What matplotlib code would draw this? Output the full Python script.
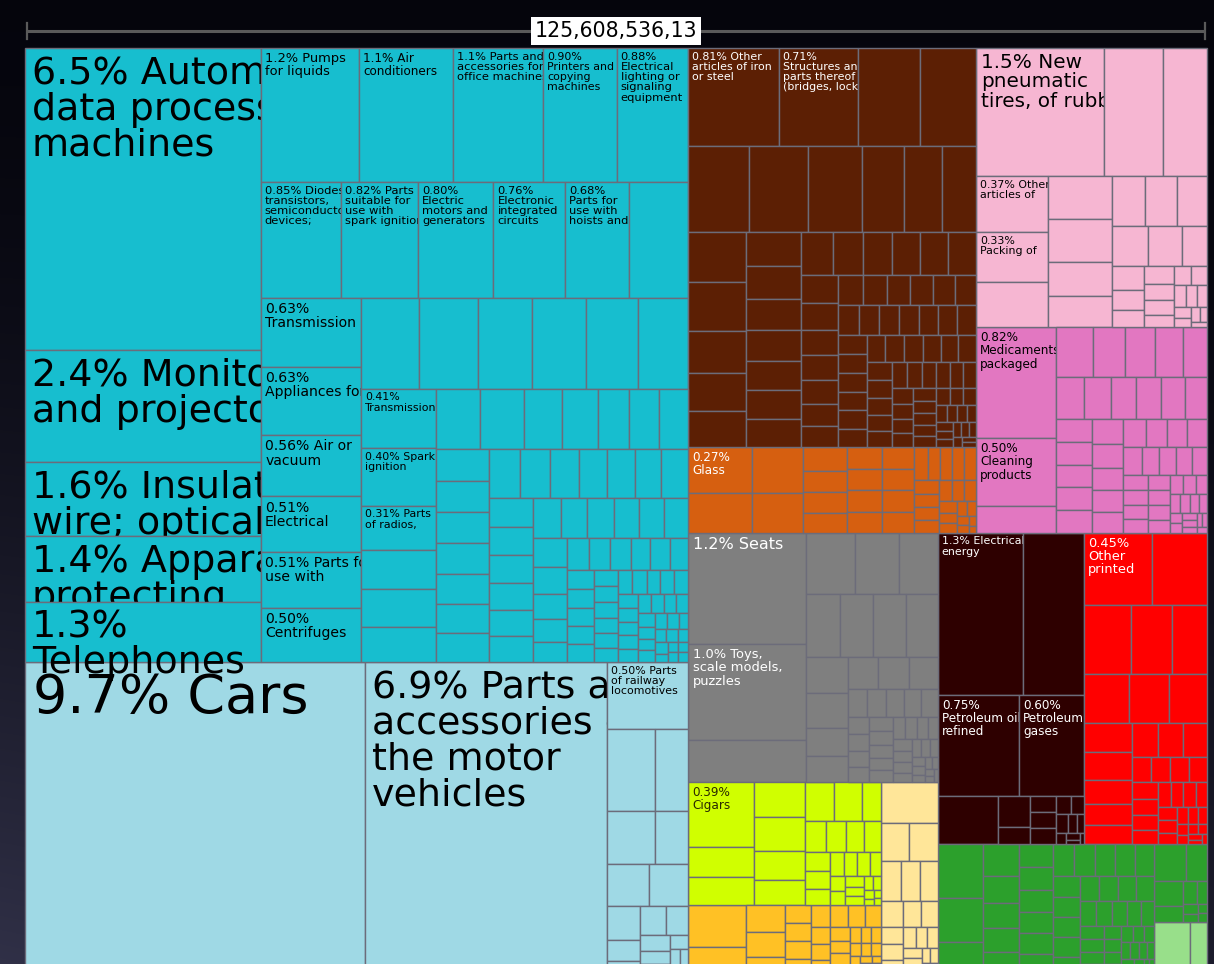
import numpy as np
import matplotlib
matplotlib.use("Agg")
import matplotlib.pyplot as plt
from matplotlib.patches import Rectangle

# ---------------- data: product shares of total exports (%) ----------------
total_label = "125,608,536,13"

machinery_values = [6.53, 2.41, 1.61, 1.41, 1.31,
    1.21, 1.15, 1.11, 0.90, 0.88,
    0.85, 0.82, 0.80, 0.76, 0.68, 0.63,
    0.63, 0.63, 0.56, 0.51, 0.51, 0.50,
    0.49, 0.49, 0.45, 0.45, 0.43, 0.42,
    0.41, 0.40, 0.31, 0.27, 0.26, 0.245,
    0.24, 0.24, 0.21, 0.20, 0.17, 0.165, 0.16,
    0.155, 0.15, 0.15, 0.145, 0.145, 0.14, 0.14,
    0.14, 0.135, 0.13, 0.125, 0.125, 0.12, 0.12,
    0.118, 0.115, 0.113, 0.11, 0.108, 0.105,
    0.104, 0.10, 0.098, 0.096, 0.094, 0.09,
    0.09, 0.085, 0.08, 0.07, 0.065,
    0.064, 0.062, 0.06, 0.058, 0.056, 0.055,
    0.046, 0.045, 0.045, 0.044, 0.044, 0.035, 0.034, 0.034, 0.034, 0.033,
    0.031, 0.031, 0.031, 0.030, 0.030, 0.030, 0.026, 0.026, 0.026, 0.026, 0.025,
    0.022, 0.022, 0.022, 0.021, 0.021, 0.018, 0.018, 0.018, 0.017, 0.017,
    0.014, 0.014, 0.014, 0.013, 0.013, 0.010, 0.010, 0.010, 0.009, 0.009]
machinery_names = [" Automatic\ndata processing\nmachines", " Monitors\nand projectors",
    " Insulated\nwire; optical", " Apparatus\nprotecting", "\nTelephones",
    " Pumps\nfor liquids", " Air\nconditioners", " Parts and\naccessories for\noffice machines",
    "\nPrinters and\ncopying\nmachines", "\nElectrical\nlighting or\nsignaling\nequipment",
    " Diodes\ntransistors,\nsemiconductor\ndevices;", " Parts\nsuitable for\nuse with\nspark ignition",
    "\nElectric\nmotors and\ngenerators", "\nElectronic\nintegrated\ncircuits",
    "\nParts for\nuse with\nhoists and", "",
    "\nTransmission", "\nAppliances for", " Air or\nvacuum", "\nElectrical",
    " Parts for\nuse with", "\nCentrifuges", "", "", "", "", "", "",
    "\nTransmission", " Spark\nignition", " Parts\nof radios,"]

transport_values = [9.74, 6.94, 0.50, 0.36, 0.25, 0.235, 0.16, 0.16, 0.15,
    0.103, 0.066, 0.042, 0.068, 0.06, 0.045, 0.035, 0.03, 0.025, 0.02, 0.015, 0.008]
transport_names = [" Cars", " Parts and\naccessories of\nthe motor\nvehicles",
    " Parts\nof railway\nlocomotives"]

metals_values = [0.81, 0.71, 0.56, 0.50,
    0.48, 0.465, 0.43, 0.33, 0.30, 0.27,
    0.26, 0.26, 0.22, 0.20, 0.19,
    0.17, 0.165, 0.16, 0.155, 0.15, 0.145, 0.14,
    0.125, 0.12, 0.115, 0.11, 0.11, 0.11,
    0.095, 0.09, 0.085, 0.085, 0.08, 0.075, 0.07,
    0.068, 0.066, 0.064, 0.062, 0.06, 0.058, 0.057, 0.056, 0.055, 0.054, 0.053,
    0.052, 0.05, 0.05, 0.05, 0.05, 0.049, 0.048, 0.048, 0.047, 0.046, 0.046, 0.045,
    0.044, 0.043, 0.042, 0.041, 0.04, 0.038, 0.037, 0.036, 0.035, 0.034, 0.033,
    0.032, 0.031, 0.03, 0.029, 0.028, 0.027, 0.026, 0.025, 0.024, 0.023, 0.022,
    0.021, 0.02, 0.019, 0.018, 0.017, 0.016, 0.015, 0.014, 0.013, 0.012, 0.011,
    0.01, 0.009, 0.008, 0.007, 0.006]
metals_names = [" Other\narticles of iron\nor steel", "\nStructures and\nparts thereof\n(bridges, locks"]

stone_values = [0.27, 0.235, 0.21, 0.185, 0.10, 0.085, 0.085, 0.083, 0.07, 0.068,
    0.068, 0.066, 0.065, 0.064, 0.064, 0.063, 0.04, 0.038, 0.036, 0.036, 0.034,
    0.032, 0.03, 0.03, 0.028, 0.026, 0.024, 0.022, 0.02, 0.018, 0.016, 0.014,
    0.012, 0.01, 0.008, 0.006, 0.004]
stone_names = ["\nGlass"]

plastics_values = [1.5, 0.70, 0.51, 0.37, 0.33, 0.30, 0.255, 0.25, 0.20, 0.185,
    0.153, 0.144, 0.139, 0.13, 0.125, 0.09, 0.07, 0.06, 0.05, 0.05, 0.045, 0.04,
    0.035, 0.03, 0.028, 0.025, 0.022, 0.02, 0.018, 0.015, 0.012, 0.01, 0.008]
plastics_names = [" New\npneumatic\ntires, of rubber", "", "", " Other\narticles of", "\nPacking of"]

chemicals_values = [0.82, 0.50, 0.20, 0.165, 0.147, 0.134, 0.125, 0.11, 0.107, 0.106,
    0.10, 0.098, 0.094, 0.086, 0.073, 0.073, 0.073, 0.073, 0.073, 0.07, 0.068,
    0.065, 0.062, 0.06, 0.058, 0.055, 0.052, 0.05, 0.048, 0.045, 0.043, 0.04,
    0.038, 0.036, 0.034, 0.033, 0.032, 0.03, 0.03, 0.028, 0.026, 0.024, 0.022, 0.02,
    0.018, 0.016, 0.015, 0.014, 0.012, 0.011, 0.01, 0.009, 0.008, 0.007, 0.006, 0.005]
chemicals_names = ["\nMedicaments\npackaged", "\nCleaning\nproducts"]

misc_values = [1.2, 1.04, 0.45, 0.277, 0.243, 0.22, 0.195, 0.195, 0.19, 0.184,
    0.136, 0.132, 0.108, 0.10, 0.09, 0.088, 0.085, 0.05, 0.048, 0.046, 0.044, 0.042,
    0.034, 0.033, 0.032, 0.031, 0.031, 0.03, 0.028, 0.027, 0.026, 0.025, 0.024, 0.022,
    0.02, 0.02, 0.019, 0.018, 0.016, 0.015, 0.014, 0.012, 0.011, 0.01, 0.009, 0.008,
    0.007, 0.006, 0.005, 0.004]
misc_names = [" Seats", " Toys,\nscale models,\npuzzles"]

food_values = [0.39, 0.18, 0.165, 0.165, 0.158, 0.135, 0.116, 0.106, 0.10, 0.066,
    0.06, 0.055, 0.05, 0.048, 0.045, 0.04, 0.036, 0.032, 0.03, 0.028, 0.025, 0.022,
    0.02, 0.018, 0.016, 0.014, 0.012, 0.01, 0.008, 0.006, 0.005, 0.004]
food_names = ["\nCigars"]

textiles_values = [0.22, 0.15, 0.095, 0.09, 0.065, 0.045, 0.044, 0.042, 0.04, 0.038,
    0.038, 0.035, 0.032, 0.03, 0.028, 0.026, 0.024, 0.022, 0.02, 0.018, 0.016, 0.015,
    0.014, 0.013, 0.012, 0.011, 0.01, 0.009, 0.008, 0.007, 0.006, 0.006, 0.005, 0.004]

hides_values = [0.213, 0.10, 0.10, 0.074, 0.067, 0.063, 0.054, 0.042, 0.04, 0.035,
    0.032, 0.03, 0.025, 0.022, 0.02, 0.018, 0.016, 0.014, 0.012, 0.01, 0.008, 0.006, 0.004]

minerals_values = [1.26, 0.91, 0.75, 0.60, 0.27, 0.093, 0.052, 0.039, 0.039, 0.039,
    0.025, 0.022, 0.02, 0.016, 0.012, 0.01, 0.008, 0.006, 0.004]
minerals_names = [" Electrical\nenergy", "", "\nPetroleum oils\nrefined", "\nPetroleum\ngases"]

paper_values = [0.45, 0.36, 0.30, 0.265, 0.22, 0.205, 0.178, 0.173, 0.127, 0.122,
    0.105, 0.092, 0.087, 0.078, 0.076, 0.074, 0.045, 0.044, 0.043, 0.042, 0.04,
    0.038, 0.036, 0.034, 0.03, 0.028, 0.028, 0.026, 0.024, 0.022, 0.02, 0.018,
    0.016, 0.014, 0.012, 0.01, 0.009, 0.008, 0.007, 0.006, 0.005]
paper_names = ["\nOther\nprinted"]

vegetables_values = [0.223, 0.18, 0.137, 0.104, 0.09, 0.085, 0.08, 0.075, 0.07, 0.07,
    0.068, 0.066, 0.065, 0.064, 0.062, 0.06, 0.06, 0.058, 0.055, 0.052, 0.05, 0.05,
    0.048, 0.046, 0.044, 0.042, 0.04, 0.04, 0.038, 0.036, 0.034, 0.032, 0.03, 0.03,
    0.028, 0.026, 0.024, 0.022, 0.02, 0.019, 0.018, 0.017, 0.016, 0.015, 0.014, 0.013,
    0.012, 0.011, 0.01, 0.009, 0.008, 0.007, 0.006, 0.005, 0.004]
vegetables2_values = [0.11, 0.07, 0.066, 0.04, 0.03, 0.02, 0.015, 0.01, 0.008, 0.007]
animal_values = [0.15, 0.07, 0.04]

# ---------------- styles / layout ----------------
label_px = {
    "machinery": [38, 38, 38, 38, 38, 13, 12, 11.5, 11, 11.5, 11.5, 11.5, 11.5, 11.5,
                  11.5, 0, 14, 14, 14, 14, 14, 14, 0, 0, 0, 0, 0, 0, 11, 11, 11],
    "transport": [54, 38, 11],
    "metals": [11, 11],
    "stone": [12],
    "plastics": [20, 0, 0, 11, 11],
    "chemicals": [12, 12],
    "misc": [16, 13],
    "food": [12],
    "minerals": [11, 0, 12, 12],
    "paper": [13],
}
# number of cells in the leading rows of a block (rest: squarified)
row_counts = {
    "metals": [4, 6, 5, 7, 6, 7, 6],
    "misc": [3, 3, 4, 4, 3, 5],
    "minerals": [2, 2, 1, 2, 3],
    "paper": [2, 3, 3, 5, 3],
    "hides": [1, 2, 3, 3],
    "food": [3, 4, 3],
    "plastics": [3, 3, 4, 3, 3],
    "chemicals": [3, 5, 6, 5],
    "stone": [2, 2, 4, 4, 4, 5],
    "vegetables": [3, 5],
    "textiles": [2, 3],
}
groups = {
    "machinery": (machinery_values, machinery_names, "#17becf", "#000000"),
    "transport": (transport_values, transport_names, "#9fd9e5", "#000000"),
    "metals": (metals_values, metals_names, "#5c1f04", "#ffffff"),
    "stone": (stone_values, stone_names, "#d65f10", "#ffffff"),
    "plastics": (plastics_values, plastics_names, "#f6b6d2", "#000000"),
    "chemicals": (chemicals_values, chemicals_names, "#e277c1", "#000000"),
    "misc": (misc_values, misc_names, "#7f7f7f", "#ffffff"),
    "food": (food_values, food_names, "#d0ff00", "#2a2a00"),
    "textiles": (textiles_values, [], "#ffc125", "#000000"),
    "hides": (hides_values, [], "#ffe699", "#000000"),
    "minerals": (minerals_values, minerals_names, "#2e0000", "#ffffff"),
    "paper": (paper_values, paper_names, "#ff0000", "#ffffff"),
    "vegetables": (vegetables_values, [], "#2ca02c", "#000000"),
    "vegetables2": (vegetables2_values, [], "#2ca02c", "#000000"),
    "animal": (animal_values, [], "#98df8a", "#000000"),
}
LAYOUT = ("h", [("v", ["machinery", "transport"]),
                ("v", [("h", [("v", ["metals", "stone"]), ("v", ["plastics", "chemicals"])]),
                       ("h", [("v", ["misc", ("h", [("v", ["food", "textiles"]), "hides"])]),
                              ("v", [("h", ["minerals", "paper"]),
                                     ("h", ["vegetables", ("v", ["vegetables2", "animal"])])])])])])
TX0, TY0, TX1, TY1 = 25, 48, 1207, 975

PHI = (1 + 5 ** 0.5) / 2


def squarify(values, x0, y0, x1, y1, counts=(), ratio=PHI):
    rects = []
    n = len(values)
    i0 = i1 = 0
    value = float(sum(values))
    r = 0
    while i0 < n:
        dx, dy = x1 - x0, y1 - y0
        if r < len(counts):
            i1 = min(n, i0 + counts[r])
            s = sum(values[i0:i1])
        else:
            s = values[i1]
            i1 += 1
            mn = mx = s
            alpha = max(dy / dx, dx / dy) / (value * ratio)
            beta = s * s * alpha
            min_ratio = max(mx / beta, beta / mn)
            while i1 < n:
                v = values[i1]
                s2 = s + v
                mn2, mx2 = min(mn, v), max(mx, v)
                beta = s2 * s2 * alpha
                nr = max(mx2 / beta, beta / mn2)
                if nr > min_ratio:
                    break
                s, mn, mx, min_ratio = s2, mn2, mx2, nr
                i1 += 1
        r += 1
        row = values[i0:i1]
        if dx < dy:
            yb = y0 + dy * s / value if i1 < n else y1
            xx = x0
            for v in row:
                w = (x1 - x0) * v / s
                rects.append((xx, y0, xx + w, yb))
                xx += w
            y0 = yb
        else:
            xb = x0 + dx * s / value if i1 < n else x1
            yy = y0
            for v in row:
                h = (y1 - y0) * v / s
                rects.append((x0, yy, xb, yy + h))
                yy += h
            x0 = xb
        value -= s
        i0 = i1
    return rects


def node_value(node):
    if isinstance(node, str):
        return sum(groups[node][0])
    return sum(node_value(c) for c in node[1])


group_rects = {}


def place(node, x0, y0, x1, y1):
    if isinstance(node, str):
        group_rects[node] = (x0, y0, x1, y1)
        return
    d, children = node
    tot = node_value(node)
    cur = x0 if d == "h" else y0
    for c in children:
        f = node_value(c) / tot
        if d == "h":
            w = (x1 - x0) * f
            place(c, cur, y0, cur + w, y1)
            cur += w
        else:
            h = (y1 - y0) * f
            place(c, x0, cur, x1, cur + h)
            cur += h


place(LAYOUT, TX0, TY0, TX1, TY1)


def pct(v):
    return f"{v:.1f}" if v >= 1 else f"{v:.2f}"


cells = []
for g, (vals, names, color, tcolor) in groups.items():
    rs = squarify(vals, *group_rects[g], counts=row_counts.get(g, ()))
    pxs = label_px.get(g, [])
    for i, (v, rc) in enumerate(zip(vals, rs)):
        lab = None
        if i < len(names) and names[i] and i < len(pxs) and pxs[i] > 0:
            lab = (pct(v) + "%" + names[i], pxs[i])
        cells.append((v, rc, color, tcolor, lab))

cells.sort(key=lambda c: -c[0])

W, H = 1214, 964
fig = plt.figure(figsize=(W / 100, H / 100), dpi=100)
ax = fig.add_axes([0, 0, 1, 1])
ax.set_xlim(0, W)
ax.set_ylim(H, 0)
ax.axis("off")

# dark background gradient
yy, xx = np.mgrid[0:H, 0:W]
t = (yy / H) ** 1.6 * (1 - 0.45 * xx / W)
top = np.array([0.02, 0.02, 0.05])
bot = np.array([0.19, 0.19, 0.28])
bg = top[None, None, :] + t[..., None] * (bot - top)[None, None, :]
ax.imshow(bg, extent=[0, W, H, 0], zorder=0, aspect="auto")

for k, (v, (x0, y0, x1, y1), color, tcolor, lab) in enumerate(cells):
    z = 1 + k * 0.002
    ax.add_patch(Rectangle((x0, y0), x1 - x0, y1 - y0, facecolor=color,
                           edgecolor="#6c6c7a", linewidth=1.0, zorder=z))
    if lab:
        text, px = lab
        fs = px * 0.72
        tx = ax.text(x0 + 3 + 0.1 * px, y0 + 2 + 0.15 * px, text, ha="left", va="top",
                     fontsize=fs, color=tcolor, family="DejaVu Sans",
                     linespacing=1.0 if px > 30 else 1.03, zorder=z + 0.001)
        clip = Rectangle((x0, y0), x1 - x0, 2000, transform=ax.transData)
        tx.set_clip_path(clip)

# scale bar on top
ax.plot([TX0 + 2, TX1 - 2], [31, 31], color="#5a5a5a", lw=2.2, zorder=10,
        solid_capstyle="butt")
ax.plot([TX0 + 2, TX0 + 2], [23, 39], color="#5a5a5a", lw=1.6, zorder=10)
ax.plot([TX1 - 2, TX1 - 2], [23, 39], color="#5a5a5a", lw=1.6, zorder=10)
ax.text((TX0 + TX1) / 2, 31, total_label, ha="center", va="center", fontsize=14.8,
        color="#000000", family="DejaVu Sans", zorder=11,
        bbox=dict(boxstyle="square,pad=0.2", facecolor="white", edgecolor="none"))

fig.savefig("out.png", dpi=100, facecolor="black")
